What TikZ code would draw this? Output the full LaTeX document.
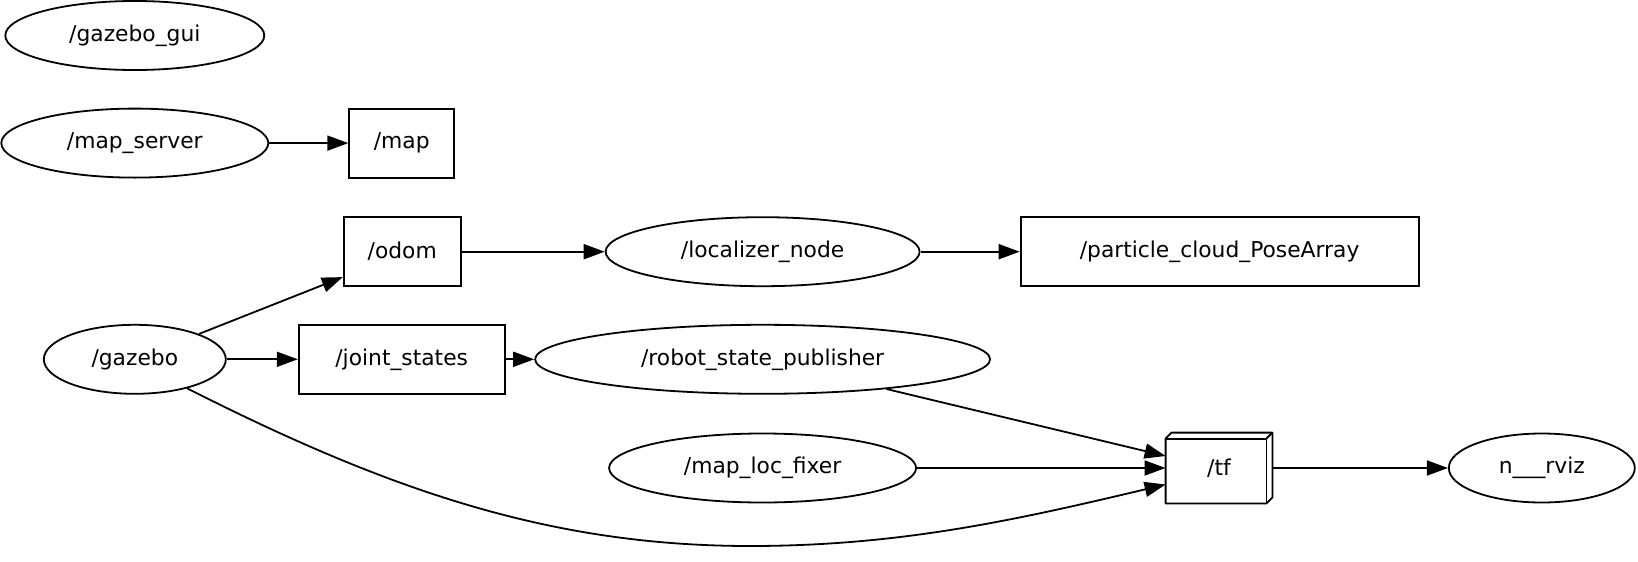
\documentclass[tikz,border=0pt]{standalone}
\usepackage{fontspec}
\setmainfont{DejaVu Sans}
\usetikzlibrary{shapes.geometric,arrows.meta,calc}
\begin{document}
\begin{tikzpicture}[x=1pt,y=-1pt,
  every node/.style={font=\fontsize{21.8}{26}\selectfont, inner sep=0pt, line width=1.8pt},
  ell/.style={draw, ellipse, minimum height=69pt},
  topic/.style={draw, rectangle, minimum height=69pt},
  conn/.style={line width=1.8pt, -{Triangle[length=21pt,width=15pt]}}
]
\path[use as bounding box] (0,0) rectangle (1638,562);

\node[ell, minimum width=259pt] (gui) at (134.8,35.5) {/gazebo\_gui};
\node[ell, minimum width=267pt] (ms) at (134.8,143.1) {/map\_server};
\node[topic, minimum width=105pt] (map) at (401.7,143.1) {/map};
\node[topic, minimum width=117pt] (odom) at (402.2,251.7) {/odom};
\node[ell, minimum width=314pt] (loc) at (762.6,251.7) {/localizer\_node};
\node[topic, minimum width=398pt] (pc) at (1219.6,251.7) {/particle\_cloud\_PoseArray};
\node[ell, minimum width=182pt] (gz) at (134.8,359.3) {/gazebo};
\node[topic, minimum width=206pt] (js) at (401.7,359.3) {/joint\_states};
\node[ell, minimum width=455pt] (rsp) at (762.6,359.3) {/robot\_state\_publisher};
\node[ell, minimum width=307pt] (mlf) at (762.6,468) {/map\_loc\_fixer};
\node[minimum width=105pt, minimum height=69pt] (tf) at (1219,468) {/tf};
\node[ell, minimum width=186pt] (rviz) at (1541.8,468) {n\_\_\_rviz};

% box3d outline for /tf
\draw[line width=1.8pt, line join=round]
  (tf.south west) -- ($(tf.north west)+(0,6)$) -- ($(tf.north west)+(6,0)$)
  -- (tf.north east) -- ($(tf.south east)+(0,-6)$) -- ($(tf.south east)+(-6,0)$) -- cycle;
\draw[line width=1.8pt, line join=round]
  ($(tf.north west)+(0,6)$) -- ($(tf.north east)+(-6,6)$) -- ($(tf.south east)+(-6,0)$);
\draw[line width=1.8pt] ($(tf.north east)+(-6,6)$) -- (tf.north east);

\coordinate (odomin) at ($(odom.south west)+(0,-10)$);
\coordinate (tfin1) at ($(tf.west)+(0,-12)$);
\coordinate (tfin3) at ($(tf.west)+(0,16.5)$);

\draw[conn] (ms) -- (map);
\draw[conn] (odom) -- (loc);
\draw[conn] (loc) -- (pc);
\draw[conn] (gz) -- (odomin);
\draw[conn] (gz) -- (js);
\draw[conn] (js) -- (rsp);
\draw[conn] (rsp) -- (tfin1);
\draw[conn] (mlf) -- (tf.west);
\draw[conn] (tf) -- (rviz);
\draw[conn] (gz.-29) .. controls (388,490) and (550,546) .. (750,546)
  .. controls (900,546) and (1016,520) .. (tfin3);
\end{tikzpicture}
\end{document}
